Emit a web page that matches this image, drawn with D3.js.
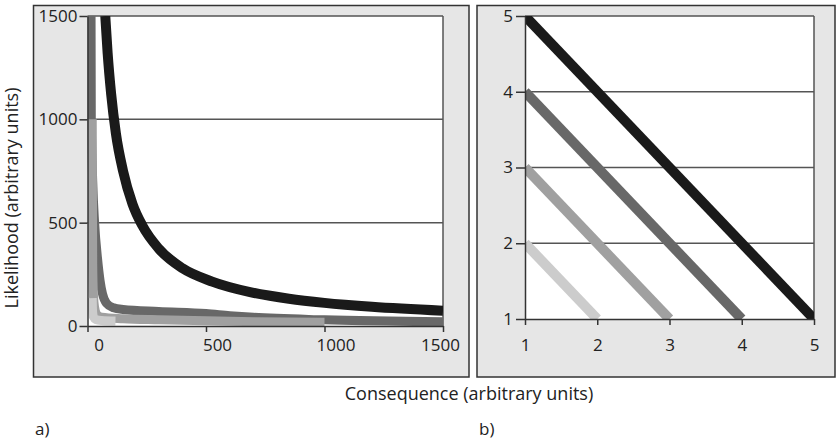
<!DOCTYPE html>
<html>
<head>
<meta charset="utf-8">
<script src="https://cdn.jsdelivr.net/npm/d3@7"></script>
<style>
body { margin: 0; background: #fff; }
text { font-family: "Open Sans", sans-serif; fill: #222; }
</style>
</head>
<body>
<script>
// panel a) iso-risk curves, [consequence, likelihood]
let black_pts = [[75,1500],[85,1320],[100,1120],[120,930],[150,750],[190,590],[232,485],[300,375],[400,280],[526,215],[686,164],[850,132],[1000,112],[1200,93],[1500,74]]
let dark_pts = [[15,1500],[16,1000],[22,700],[30,500],[42,330],[53,220],[63,157],[80,110],[110,88],[150,80],[300,70],[500,60],[600,50],[700,42],[1000,30],[1500,20]]
let mid_pts = [[20,1000],[21,600],[22,300],[25,150],[30,90],[40,55],[60,42],[150,35],[300,30],[500,25],[700,21],[1000,18]]
let light_pts = [[20,135],[21,80],[25,45],[35,32],[60,27],[118,24]]
let left_ticks = [0, 500, 1000, 1500]

// panel b) straight lines from (1, n) down to (n, 1)
let right_lines = [
    [[1,5],[5,1]],
    [[1,4],[4,1]],
    [[1,3],[3,1]],
    [[1,2],[2,1]]
]
let right_ticks = [1, 2, 3, 4, 5]

let left_series = [black_pts, dark_pts, mid_pts, light_pts]
let left_colors = ["#1a1a1a", "#686868", "#a0a0a0", "#cccccc"]
let left_widths = [10, 9, 9, 9]
let right_colors = ["#1a1a1a", "#686868", "#a0a0a0", "#cccccc"]

let width = 836
let height = 441

let svg = d3.select("body").append("svg")
    .attr("width", width)
    .attr("height", height)

function draw_panel(x0, w) {
    svg.append("rect")
        .attr("x", x0)
        .attr("y", 5.5)
        .attr("width", w)
        .attr("height", 371.5)
        .attr("fill", "#e6e6e6")
        .attr("stroke", "#333")
        .attr("stroke-width", 1.5)
}

function draw_plot(x, y, ticks, id) {
    let [x1, x2] = x.range()
    let [y1, y2] = y.range()
    let g = svg.append("g")

    g.append("rect")
        .attr("x", x1).attr("y", y2)
        .attr("width", x2 - x1).attr("height", y1 - y2)
        .attr("fill", "#fff")

    g.selectAll("line.grid")
        .data(ticks.slice(1))
        .enter().append("line")
        .classed("grid", true)
        .attr("x1", x1).attr("x2", x2)
        .attr("y1", d => y(d)).attr("y2", d => y(d))
        .attr("stroke", "#555")
        .attr("stroke-width", 1.5)

    g.append("line")
        .attr("x1", x2).attr("x2", x2)
        .attr("y1", y2).attr("y2", y1)
        .attr("stroke", "#555")
        .attr("stroke-width", 1.5)

    svg.append("clipPath").attr("id", id)
        .append("rect")
        .attr("x", x1).attr("y", y2)
        .attr("width", x2 - x1).attr("height", y1 - y2)
    return g
}

function style_axis(g) {
    g.select(".domain").attr("stroke", "#333").attr("stroke-width", 1.5)
    g.selectAll(".tick line").attr("stroke", "#333").attr("stroke-width", 1.5)
    g.selectAll("text")
        .style("font-family", "'Open Sans', sans-serif")
        .style("font-size", "17px")
        .attr("fill", "#222")
}

function draw_left() {
    draw_panel(33.5, 435.5)
    let x = d3.scaleLinear().domain([0, 1500]).range([87.5, 443])
    let y = d3.scaleLinear().domain([0, 1500]).range([326, 16])
    draw_plot(x, y, left_ticks, "clip-a")

    let line = d3.line()
        .x(d => x(d[0]))
        .y(d => y(d[1]))
        .curve(d3.curveMonotoneX)

    svg.append("g").attr("clip-path", "url(#clip-a)")
        .selectAll("path")
        .data(left_series)
        .enter().append("path")
        .attr("d", line)
        .attr("fill", "none")
        .attr("stroke", (d, i) => left_colors[i])
        .attr("stroke-width", (d, i) => left_widths[i])

    let ax = svg.append("g")
        .attr("transform", "translate(0," + y(0) + ")")
        .call(d3.axisBottom(x).tickValues(left_ticks).tickFormat(d3.format("d"))
            .tickSize(6).tickSizeOuter(0).tickPadding(7))
    ax.selectAll("text").attr("dx", (d, i, n) => i === n.length - 1 ? -3 : 11)
    style_axis(ax)

    let ay = svg.append("g")
        .attr("transform", "translate(" + x(0) + ",0)")
        .call(d3.axisLeft(y).tickValues(left_ticks).tickFormat(d3.format("d"))
            .tickSize(8).tickSizeOuter(0).tickPadding(2))
    style_axis(ay)

    svg.append("text")
        .attr("transform", "translate(18,198) rotate(-90)")
        .attr("text-anchor", "middle")
        .style("font-size", "18px")
        .text("Likelihood (arbitrary units)")
}

function draw_right() {
    draw_panel(477, 358)
    let x = d3.scaleLinear().domain([1, 5]).range([525, 814])
    let y = d3.scaleLinear().domain([1, 5]).range([319, 16])
    draw_plot(x, y, right_ticks, "clip-b")

    let line = d3.line()
        .x(d => x(d[0]))
        .y(d => y(d[1]))

    svg.append("g").attr("clip-path", "url(#clip-b)")
        .selectAll("path")
        .data(right_lines)
        .enter().append("path")
        .attr("d", line)
        .attr("fill", "none")
        .attr("stroke", (d, i) => right_colors[i])
        .attr("stroke-width", 10)

    let ax = svg.append("g")
        .attr("transform", "translate(0," + y(1) + ")")
        .call(d3.axisBottom(x).tickValues(right_ticks).tickFormat(d3.format("d"))
            .tickSize(6).tickSizeOuter(0).tickPadding(14))
    style_axis(ax)

    let ay = svg.append("g")
        .attr("transform", "translate(" + x(1) + ",0)")
        .call(d3.axisLeft(y).tickValues(right_ticks).tickFormat(d3.format("d"))
            .tickSize(9).tickSizeOuter(0).tickPadding(3))
    style_axis(ay)
}

function draw_labels() {
    svg.append("text")
        .attr("x", 469).attr("y", 400)
        .attr("text-anchor", "middle")
        .style("font-size", "18px")
        .text("Consequence (arbitrary units)")
    svg.append("text")
        .attr("x", 35).attr("y", 435)
        .style("font-size", "17px")
        .text("a)")
    svg.append("text")
        .attr("x", 479).attr("y", 435)
        .style("font-size", "17px")
        .text("b)")
}

draw_left()
draw_right()
draw_labels()
</script>
</body>
</html>
